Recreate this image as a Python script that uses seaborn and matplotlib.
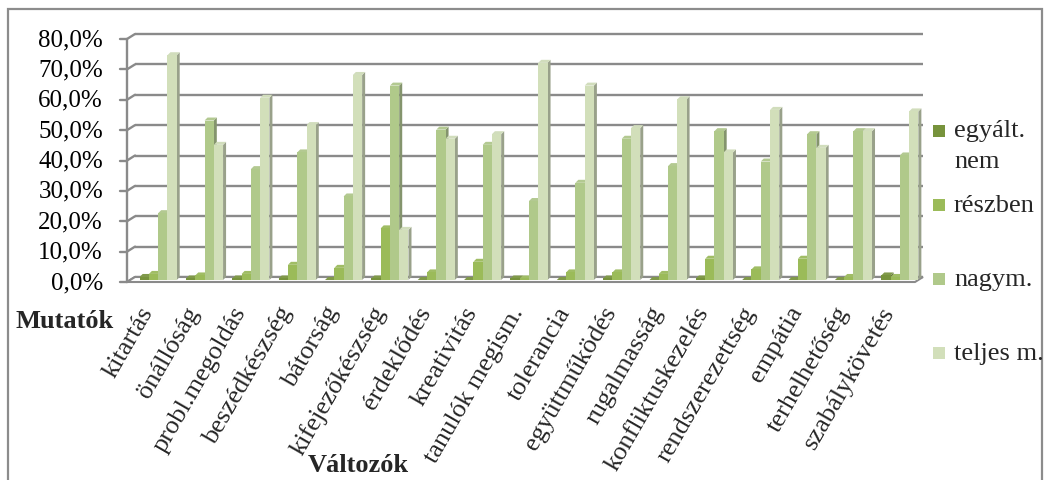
import matplotlib
matplotlib.use("Agg")
import numpy as np
import pandas as pd
import seaborn as sns
import matplotlib.pyplot as plt
from matplotlib.patches import Polygon, Rectangle
from matplotlib.colors import to_rgb

# ---- data (percent of answers) ----
categories = ["kitartás", "önállóság", "probl.megoldás", "beszédkészség", "bátorság",
              "kifejezőkészség", "érdeklődés", "kreativitás", "tanulók megism.",
              "tolerancia", "együttműködés", "rugalmasság", "konfliktuskezelés",
              "rendszerezettség", "empátia", "terhelhetőség", "szabálykövetés"]
series_names = ["egyált.\nnem", "részben", "nagym.", "teljes m."]
egyalt_nem = [1.0, 0.5, 0.5, 0.5, 0.0, 0.5, 0.0, 0.0, 0.5, 0.0, 0.5, 0.0, 0.5, 0.0, 0.0, 0.0, 1.5]
reszben = [2.0, 1.5, 2.0, 5.0, 4.0, 17.0, 2.5, 6.0, 0.5, 2.5, 2.5, 2.0, 7.0, 3.5, 7.0, 1.0, 1.0]
nagym = [22.0, 52.5, 36.5, 42.0, 27.5, 64.0, 49.5, 44.5, 26.0, 32.0, 46.5, 37.5, 49.0, 39.0, 48.0, 49.0, 41.0]
teljes_m = [74.0, 44.5, 60.0, 51.0, 67.5, 16.5, 46.5, 48.0, 71.5, 64.0, 50.0, 59.5, 42.0, 56.0, 43.5, 49.0, 55.5]
y_ticks = [0, 10, 20, 30, 40, 50, 60, 70, 80]
colors = ["#77933C", "#9BBB59", "#B0C98A", "#D2DFBA"]

df = pd.concat([
    pd.DataFrame({"Változók": categories, "érték": vals, "válasz": name})
    for name, vals in zip(series_names, [egyalt_nem, reszben, nagym, teljes_m])
], ignore_index=True)

sns.set_theme(style="white")
plt.rcParams["font.family"] = ["Liberation Serif", "DejaVu Serif"]

W_PX, H_PX = 1045, 481
fig = plt.figure(figsize=(W_PX / 100, H_PX / 100), dpi=100)
# back wall of the plot area, in pixels (top-origin)
bx0, bx1, by0, by1 = 135, 923, 278, 35
ax = fig.add_axes([bx0 / W_PX, 1 - by0 / H_PX, (bx1 - bx0) / W_PX, (by0 - by1) / H_PX])

sns.barplot(data=df, x="Változók", y="érték", hue="válasz", order=categories,
            hue_order=series_names, palette=colors, width=0.8, gap=0,
            saturation=1, errorbar=None, legend=False, ax=ax, zorder=3,
            linewidth=0)

n = len(categories)
ax.set_xlim(-0.5, n - 0.5)
ax.set_ylim(0, 80)
for s in ax.spines.values():
    s.set_visible(False)
ax.set_xlabel("")
ax.set_ylabel("")

# pixel -> data conversion factors
pxx = n / (bx1 - bx0)
pxy = 80 / (by0 - by1)
dfx, dfy = 8 * pxx, 5 * pxy  # depth offset of the front plane

grid_c = "#8a8a8a"
for v in y_ticks:
    # back-wall gridline
    ax.plot([-0.5, n - 0.5], [v, v], color=grid_c, lw=1.7,
            zorder=1, clip_on=False, solid_capstyle="butt")
    # slanted link from the left wall to the back wall
    ax.plot([-0.5 - dfx, -0.5], [v - dfy, v], color=grid_c, lw=1.7, zorder=1, clip_on=False)
    # tick mark on the front of the left wall
    ax.plot([-0.5 - dfx - 7 * pxx, -0.5 - dfx], [v - dfy, v - dfy], color=grid_c,
            lw=1.7, zorder=1, clip_on=False)
    ax.text(-0.5 - dfx - 24 * pxx, v - dfy, f"{v:.1f}%".replace(".", ","),
            ha="right", va="center", fontsize=18, color="black", clip_on=False)

ax.set_yticks([])
# left wall edge
ax.plot([-0.5 - dfx, -0.5 - dfx], [-dfy, 80 - dfy], color=grid_c, lw=1.7, zorder=1, clip_on=False)
# floor
floor = Polygon([(-0.5 - dfx, -dfy), (n - 0.5 - dfx, -dfy), (n - 0.5, 0), (-0.5, 0)],
                closed=True, facecolor="white", edgecolor=grid_c, lw=1.5, zorder=1.5,
                clip_on=False)
ax.add_patch(floor)

# side and top faces give the columns their depth; the back edge of the
# top face marks the value against the back-wall gridlines
dxd, dyd = 3 * pxx, 3 * pxy
for p in list(ax.patches):
    if not isinstance(p, Rectangle):
        continue
    p.set_y(-dyd)
    x0, w, h = p.get_x(), p.get_width(), p.get_height()
    y0, y1 = -dyd, h - dyd
    base = np.array(to_rgb(p.get_facecolor()))
    side_c = base * 0.62 + np.array([0.45, 0.45, 0.45]) * 0.2
    top_c = np.clip(base * 0.9 + 0.08, 0, 1)
    ax.add_patch(Polygon([(x0 + w, y0), (x0 + w + dxd, y0 + dyd), (x0 + w + dxd, y1 + dyd), (x0 + w, y1)],
                         closed=True, facecolor=side_c, edgecolor="none", zorder=2, clip_on=False))
    ax.add_patch(Polygon([(x0, y1), (x0 + w, y1), (x0 + w + dxd, y1 + dyd), (x0 + dxd, y1 + dyd)],
                         closed=True, facecolor=top_c, edgecolor="none", zorder=2, clip_on=False))
    p.set_clip_on(False)

# category labels sit on the front edge of the floor
ax.set_xticks(np.arange(n) - 10 * pxx)
ax.set_xticklabels(categories, rotation=60, ha="right", va="center",
                   rotation_mode="anchor", fontsize=19)
ax.tick_params(axis="x", length=0, pad=22)

# axis titles
fig.text(15 / W_PX, 1 - 322 / H_PX, "Mutatók", fontsize=19, fontweight="bold",
         ha="left", va="center")
fig.text(358 / W_PX, 1 - 466 / H_PX, "Változók", fontsize=19, fontweight="bold",
         ha="center", va="center")

# legend
legend_y = [132, 206, 280, 354]
for name, c, yc in zip(series_names, colors, legend_y):
    fig.add_artist(Rectangle((933 / W_PX, 1 - (yc + 6) / H_PX), 12 / W_PX, 12 / H_PX,
                             transform=fig.transFigure, facecolor=c, edgecolor="none"))
    if "\n" in name:
        fig.text(954 / W_PX, 1 - (yc - 12) / H_PX, name, fontsize=19, ha="left",
                 va="top", linespacing=1.5)
    else:
        fig.text(954 / W_PX, 1 - yc / H_PX, name, fontsize=19, ha="left", va="center")

# chart frame
fig.add_artist(Rectangle((8 / W_PX, -0.1), 1034 / W_PX, 1.1 - 10 / H_PX,
                         transform=fig.transFigure, facecolor="none",
                         edgecolor="#8c8c8c", lw=1.6))

fig.savefig("out.png", dpi=100)
